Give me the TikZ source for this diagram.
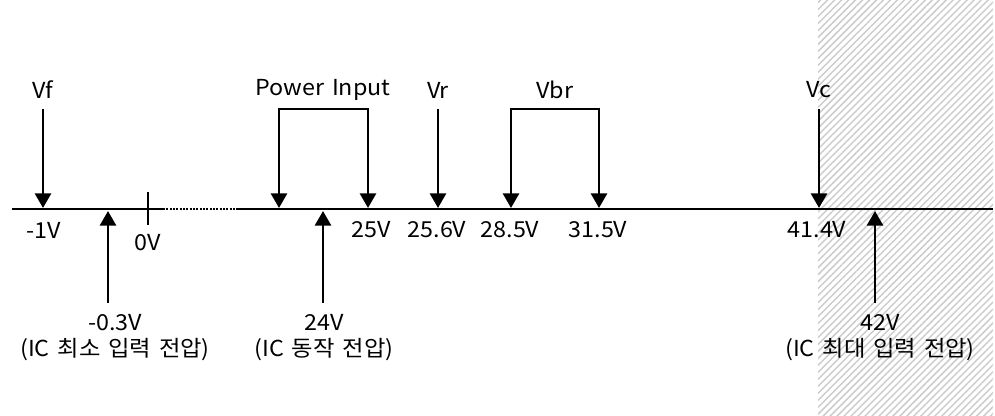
\documentclass[tikz,border=0pt]{standalone}
\usepackage{fontspec}
\setmainfont[FakeStretch=1.06,WordSpace=1.5]{Noto Sans CJK KR}
\usetikzlibrary{arrows.meta,patterns.meta}

\begin{document}
\begin{tikzpicture}[x=0.75pt,y=-0.75pt,
		volt/.style={font=\fontsize{16.5}{19.5}\selectfont,inner sep=0pt,align=center},
		axis/.style={line width=2pt},
		down/.style={line width=2.2pt,-{Triangle[width=12pt,length=11pt]}},
		bracket/.style={line width=2.2pt,{Triangle[width=12pt,length=11pt]}-{Triangle[width=12pt,length=11pt]}}]
		\useasboundingbox (0,0) rectangle (995,416);
		%Hatch
		\fill[pattern={Lines[angle=45,distance=3.7pt,line width=1.1pt]},pattern color=black!20] (818,0) rectangle (993,416);
		%Axes
		\draw[axis] (12,209) coordinate (start) -- (163,209) coordinate (dotL);
		\draw[axis,dash pattern=on 1.5pt off 1pt] (dotL) -- (238,209) coordinate (dotR);
		\draw[axis] (dotR) -- (993,209) coordinate (end);
		\draw[axis] (148,192) coordinate (tickT) -- (148,225) coordinate (tickB);
		%Descriptions
		\foreach \x/\name/\txt in {43/vf/Vf,438/vr/Vr,819/vc/Vc}{
			\node[volt] (\name) at (\x,90) {\txt};
			\coordinate (\name top) at (\x,109);
			\coordinate (\name pt) at (\x,208);
			\draw[down] (\name top) -- (\name pt);
		}
		\node[volt] (pin) at (323,90) {Power Input};
		\draw[bracket] (279,208) coordinate (pinL) -- (279,109) -- (368,109) -- (368,208) coordinate (pinR);
		\node[volt] (vbr) at (555,90) {Vbr};
		\draw[bracket] (511,208) coordinate (vbrL) -- (511,109) -- (599,109) -- (599,208) coordinate (vbrR);
		%Values
		\foreach \x/\y/\txt in {44/230/-1V,148/243/0V,371/230/25V,437/230/25.6V,510/230/28.5V,598/230/31.5V,817/230/41.4V}
			\node[volt] at (\x,\y) {\txt};
		%IC
		\foreach \x/\lx/\name/\txt in {108/115/icmin/{-0.3V\\(IC 최소 입력 전압)},323/324/icop/{24V\\(IC 동작 전압)},875/880/icmax/{42V\\(IC 최대 입력 전압)}}{
			\node[volt] (\name) at (\lx,338) {\txt};
			\coordinate (\name bot) at (\x,303);
			\draw[down] (\name bot) -- (\x,211);
		}
\end{tikzpicture}
\end{document}
